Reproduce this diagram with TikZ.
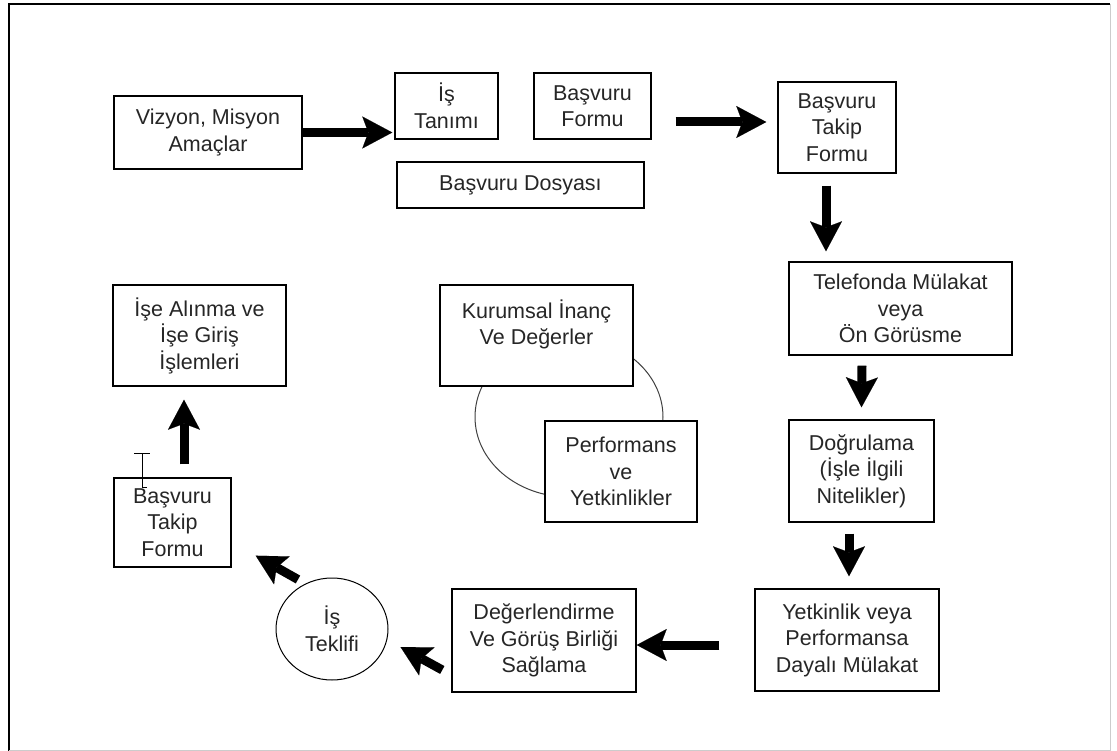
\documentclass[tikz,border=0pt]{standalone}
\usepackage{fontspec}
\setmainfont{Liberation Sans}
\usetikzlibrary{arrows.meta,shapes.geometric}
\begin{document}
\begin{tikzpicture}[x=1pt,y=-1pt,
    box/.style={draw, line width=1.4pt, fill=white, inner sep=0pt, align=center,
      font=\fontsize{21.5}{26.5}\selectfont, text=black!85},
    bigarrow/.style={line width=9pt, -{Stealth[length=30pt,width=32pt,inset=6pt,line width=0.1pt]}}]
    \useasboundingbox (0,0) rectangle (1117,751);
    % frame
    \draw[line width=1.5pt] (9,751) -- (9,4) -- (1110,4);
    \draw[line width=0.8pt, black!20] (1110,4) -- (1110,750) -- (9,750);
    % ring behind the two middle boxes
    \draw[line width=1pt, black!75] (569,417) ellipse (94pt and 80pt);
    % boxes
    \node[box, minimum width=188pt, minimum height=73pt] (vizyon) at (208,132.5) {Vizyon, Misyon\\Amaçlar};
    \node[box, minimum width=103pt, minimum height=66pt] (istanimi) at (446.5,106) {İş\\Tanımı};
    \node[box, minimum width=117pt, minimum height=66pt] (bformu) at (592.5,106) {Başvuru\\Formu};
    \node[box, minimum width=247pt, minimum height=46pt] (bdosyasi) at (520.5,185) {Başvuru Dosyası};
    \node[box, minimum width=118pt, minimum height=91pt] (takip) at (837,127.5) {Başvuru\\Takip\\Formu};
    \node[box, minimum width=223pt, minimum height=93pt] (telefon) at (900.5,308.5) {Telefonda Mülakat\\veya\\Ön Görüsme};
    \node[box, minimum width=145pt, minimum height=102pt] (dogrulama) at (861.5,471) {Doğrulama\\(İşle İlgili\\Nitelikler)};
    \node[box, minimum width=184pt, minimum height=102pt] (yetkinlik) at (847,640) {Yetkinlik veya\\Performansa\\Dayalı Mülakat};
    \node[box, minimum width=184pt, minimum height=103pt] (degerlendirme) at (544,640.5) {Değerlendirme\\Ve Görüş Birliği\\Sağlama};
    \node[box, ellipse, line width=1pt, minimum width=112pt, minimum height=102pt] (teklif) at (332,629) {İş\\Teklifi};
    \node[box, minimum width=117pt, minimum height=89pt] (takipsol) at (172.5,522.5) {Başvuru\\Takip\\Formu};
    \node[box, minimum width=173pt, minimum height=101pt] (alinma) at (199.5,335.5) {İşe Alınma ve\\İşe Giriş\\İşlemleri};
    \node[box, minimum width=193pt, minimum height=101pt] (kurumsal) at (536.5,335.5) {Kurumsal İnanç\\Ve Değerler\\\mbox{}};
    \node[box, minimum width=152pt, minimum height=101pt] (performans) at (621,471.5) {Performans\\ve\\Yetkinlikler};
    % arrows
    \draw[bigarrow] (vizyon.east) -- ([xshift=-2pt]vizyon.east -| istanimi.west);
    \draw[bigarrow] ([xshift=24pt,yshift=-16pt]bformu.east) -- ([xshift=-11pt,yshift=5.5pt]takip.west);
    \draw[bigarrow] ([xshift=-11pt,yshift=-12pt]takip.south) -- ([xshift=-74.5pt,yshift=10pt]telefon.north);
    \draw[bigarrow] ([xshift=-38.5pt,yshift=-10pt]telefon.south) -- ([yshift=12pt]dogrulama.north);
    \draw[bigarrow] ([xshift=-12.5pt,yshift=-11pt]dogrulama.south) -- ([xshift=2pt,yshift=12pt]yetkinlik.north);
    \draw[bigarrow] ([xshift=-35pt,yshift=-5pt]yetkinlik.west) -- ([yshift=-4.5pt]degerlendirme.east);
    \draw[bigarrow] ([xshift=-9pt,yshift=-29.5pt]degerlendirme.west) -- ([xshift=12pt,yshift=-18pt]teklif.east);
    \draw[bigarrow] ([xshift=-34pt,yshift=-2pt]teklif.north) -- ([xshift=24pt,yshift=12pt]takipsol.south east);
    \draw[bigarrow] ([xshift=11.5pt,yshift=13pt]takipsol.north) -- ([xshift=-15.5pt,yshift=-13pt]alinma.south);
    % text cursor
    \draw[line width=0.9pt] (134,453) -- (150,453) (142,453) -- (142,487) -- (147,487);
\end{tikzpicture}
\end{document}
